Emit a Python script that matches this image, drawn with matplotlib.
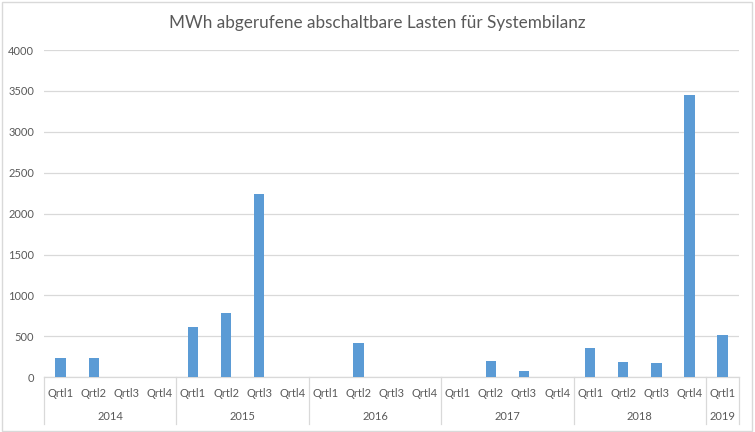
import matplotlib.pyplot as plt
import matplotlib.transforms as mtransforms
from matplotlib.patches import Rectangle

plt.rcParams['font.family'] = ['Lato', 'DejaVu Sans']

years = ['2014', '2015', '2016', '2017', '2018', '2019']
quarters_per_year = [4, 4, 4, 4, 4, 1]
quarter_labels = ['Qrtl1', 'Qrtl2', 'Qrtl3', 'Qrtl4']
mwh = [240, 240, 0, 0,
       610, 790, 2245, 0,
       0, 415, 0, 0,
       0, 197, 80, 0,
       362, 188, 176, 3445,
       515]

cats = []
for y, n in zip(years, quarters_per_year):
    cats += quarter_labels[:n]
x = list(range(len(cats)))

grey = '#595959'
line = '#D9D9D9'

fig = plt.figure(figsize=(7.55, 4.32), dpi=100)
ax = fig.add_axes([0.0583, 0.1266, 0.9207, 0.7576])

ax.bar(x, mwh, width=0.31, color='#5B9BD5', zorder=3)
ax.set_xlim(-0.5, len(cats) - 0.5)
ax.set_ylim(0, 4000)
ax.set_yticks(range(0, 4001, 500))
ax.tick_params(axis='y', length=0, labelsize=8, labelcolor=grey, pad=7)
ax.set_xticks([])
ax.yaxis.grid(True, color=line, lw=0.9, zorder=0)
for s in ['top', 'right', 'left']:
    ax.spines[s].set_visible(False)
ax.spines['bottom'].set_color(line)
ax.spines['bottom'].set_linewidth(0.9)

trans = mtransforms.blended_transform_factory(ax.transData, ax.transAxes)
for xi, lab in zip(x, cats):
    ax.text(xi, -0.048, lab, transform=trans, ha='center', va='center',
            fontsize=8, color=grey)

start = 0
bounds = [-0.5]
for y, n in zip(years, quarters_per_year):
    mid = start + (n - 1) / 2
    ax.text(mid, -0.121, y, transform=trans, ha='center', va='center',
            fontsize=8, color=grey)
    start += n
    bounds.append(start - 0.5)
for b in bounds:
    ax.plot([b, b], [0, -0.143], transform=trans, color=line, lw=0.9,
            clip_on=False)

fig.text(0.5, 0.947, 'MWh abgerufene abschaltbare Lasten für Systembilanz',
         ha='center', va='center', fontsize=12.3, color=grey)

fig.patches.append(Rectangle((0.002, 0.003), 0.994, 0.993, transform=fig.transFigure,
                             fill=False, edgecolor=line, lw=1))

fig.savefig('out.png', dpi=100)
